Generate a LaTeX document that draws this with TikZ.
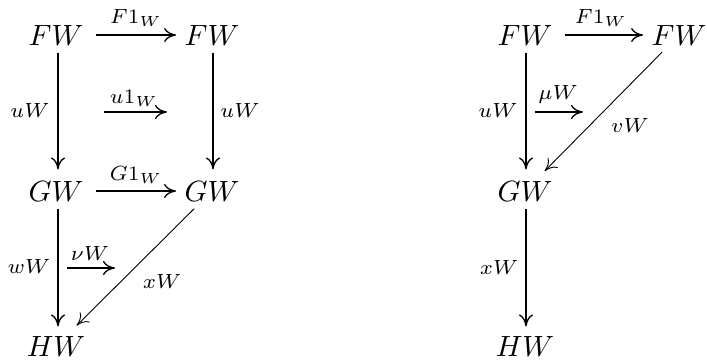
\documentclass[tikz,border=0pt]{standalone}
\usetikzlibrary{arrows.meta}
\begin{document}
\begin{tikzpicture}[x=1pt,y=-1pt,
  obj/.style={inner sep=0pt, text height=6.83pt, text depth=0pt, minimum width=18.4pt, font=\normalsize, scale=2.93, transform shape},
  lbl/.style={inner sep=0pt, anchor=base, font=\scriptsize, scale=2.93, transform shape},
  arr/.style={line width=1.3pt, -{Computer Modern Rightarrow[length=12pt,width=14pt]}},
  diag/.style={line width=0.9pt, -{Computer Modern Rightarrow[length=12pt,width=14pt]}},
  hor/.style={arr, shorten <=12pt, shorten >=8pt},
  vup/.style={arr, shorten <=7pt, shorten >=11pt},
  vlo/.style={arr, shorten <=7pt, shorten >=9pt}]
\useasboundingbox (0,0) rectangle (707,363);
% left diagram
\node[obj] (A1) at (56,35) {$FW$};
\node[obj] (A2) at (212,35) {$FW$};
\node[obj] (B1) at (56,191) {$GW$};
\node[obj] (B2) at (212,191) {$GW$};
\node[obj] (C1) at (56,346) {$HW$};
% right diagram
\node[obj] (D1) at (525,35) {$FW$};
\node[obj] (D2) at (679,35) {$FW$};
\node[obj] (E1) at (525,191) {$GW$};
\node[obj] (F1) at (525,346) {$HW$};
% left arrows
\draw[hor] (A1.east) -- (A2.west);
\draw[hor] (B1.east) -- (B2.west);
\draw[vup] ([xshift=2pt]A1.south) -- ([xshift=2pt]B1.north);
\draw[vup] ([xshift=1pt]A2.south) -- ([xshift=1pt]B2.north);
\draw[vlo] ([xshift=2pt]B1.south) -- ([xshift=2pt]C1.north);
\draw[diag, shorten <=10pt, shorten >=14pt] (B2) -- (C1);
\coordinate (m1a) at (104,112); \coordinate (m1b) at (167,112);
\coordinate (m2a) at (67,268);  \coordinate (m2b) at (115,268);
\draw[arr] (m1a) -- (m1b);
\draw[arr] (m2a) -- (m2b);
% right arrows
\draw[hor] (D1.east) -- (D2.west);
\draw[vup] ([xshift=1pt]D1.south) -- ([xshift=1pt]E1.north);
\draw[vlo] ([xshift=1pt]E1.south) -- ([xshift=1pt]F1.north);
\draw[diag, shorten <=9pt, shorten >=13pt] (D2) -- (E1);
\coordinate (m3a) at (535,112); \coordinate (m3b) at (583,112);
\draw[arr] (m3a) -- (m3b);
% labels
\node[lbl] (l1) at (136,24) {$F1_W$};
\node[lbl] (l2) at (134,104) {$u1_W$};
\node[lbl] (l3) at (136,181) {$G1_W$};
\node[lbl] (l4) at (30,118) {$uW$};
\node[lbl] (l5) at (240,118) {$uW$};
\node[lbl] (l6) at (29,274) {$wW$};
\node[lbl] (l7) at (90,261) {$\nu W$};
\node[lbl] (l8) at (162,289) {$xW$};
\node[lbl] (l9) at (601,24) {$F1_W$};
\node[lbl] (l10) at (498,118) {$uW$};
\node[lbl] (l11) at (558,100) {$\mu W$};
\node[lbl] (l12) at (630,133) {$vW$};
\node[lbl] (l13) at (499,275) {$xW$};
\end{tikzpicture}
\end{document}
